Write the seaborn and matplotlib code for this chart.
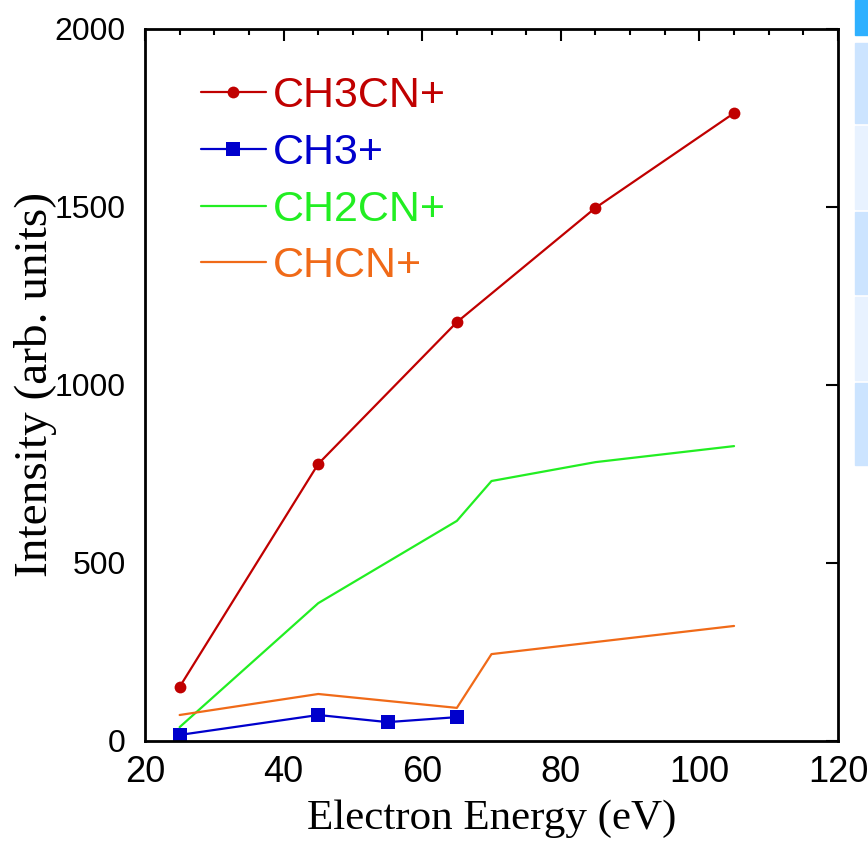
import matplotlib
matplotlib.use("Agg")
import matplotlib.pyplot as plt
from matplotlib import font_manager
from matplotlib.patches import Rectangle
from matplotlib.ticker import MultipleLocator
import seaborn as sns
import pandas as pd

# ---- data ----
ch3cn_x = [25, 45, 65, 85, 105]
ch3cn_y = [152, 778, 1176, 1497, 1763]
ch3_x = [25, 45, 55, 65]
ch3_y = [17, 73, 53, 67]
ch2cn_x = [25, 45, 65, 70, 85, 105]
ch2cn_y = [39, 387, 618, 730, 783, 828]
chcn_x = [25, 45, 65, 70, 105]
chcn_y = [73, 132, 93, 244, 323]

labels = ["CH3CN+", "CH3+", "CH2CN+", "CHCN+"]
colors = ["#C00000", "#0000CC", "#22EE22", "#F06A18"]
markers = ["o", "s", None, None]
msizes = [8.5, 9.5, 0, 0]

x_ticks = [20, 40, 60, 80, 100, 120]
y_ticks = [0, 500, 1000, 1500, 2000]

sns.set_style("white")
plt.rcParams.update({"text.color": "black", "axes.labelcolor": "black",
                     "xtick.color": "black", "ytick.color": "black"})

def has_font(name):
    try:
        font_manager.findfont(name, fallback_to_default=False)
        return True
    except Exception:
        return False

narrow = "Liberation Sans Narrow" if has_font("Liberation Sans Narrow") else "Liberation Sans"

fig = plt.figure(figsize=(8.68, 8.42), dpi=100)
ax = fig.add_axes([145 / 868, 1 - 741 / 842, 693 / 868, (741 - 28.7) / 842])

series = [(ch3cn_x, ch3cn_y), (ch3_x, ch3_y), (ch2cn_x, ch2cn_y), (chcn_x, chcn_y)]
for (xs, ys), lab, col, mk, ms in zip(series, labels, colors, markers, msizes):
    df = pd.DataFrame({"x": xs, "y": ys})
    kw = dict(marker=mk, markersize=ms, markeredgewidth=0) if mk else {}
    sns.lineplot(data=df, x="x", y="y", ax=ax, color=col, linewidth=1.6,
                 label=lab, **kw)

ax.set_xlim(20, 120)
ax.set_ylim(0, 2000)
ax.set_xticks(x_ticks)
ax.set_yticks(y_ticks)
ax.xaxis.set_minor_locator(MultipleLocator(5))

for s in ax.spines.values():
    s.set_linewidth(2.0)
    s.set_color("black")

ax.tick_params(axis="both", which="both", direction="in", top=True, right=True,
               color="black", labelcolor="black", width=1.5)
ax.tick_params(axis="both", which="major", length=8.5)
ax.tick_params(axis="x", which="minor", length=4.5)
ax.tick_params(axis="x", which="major", pad=10)
ax.tick_params(axis="y", which="major", pad=14)

for t in ax.get_xticklabels():
    t.set_fontfamily(narrow)
    t.set_fontsize(26)
for t in ax.get_yticklabels():
    t.set_fontfamily("Liberation Sans")
    t.set_fontsize(23)

ax.set_xlabel("Electron Energy (eV)", fontfamily="Liberation Serif", fontsize=31,
              labelpad=7, color="black")
ax.set_ylabel("Intensity (arb. units)", fontfamily="Liberation Serif", fontsize=34,
              labelpad=-2, color="black")

leg = ax.legend(loc="upper left", bbox_to_anchor=((201 - 145) / 693, (741 - 76) / 712.3),
                frameon=False, borderpad=0, borderaxespad=0, handlelength=1.5,
                handletextpad=0.16, labelspacing=0.39, labelcolor="linecolor",
                prop={"family": "Liberation Sans", "size": 31})

# right-edge strip from the screenshot
strip = [(0, 35, "#2EB0FF"), (43, 123, "#CCE4FF"), (126, 209, "#E8F2FF"),
         (212, 294, "#CCE4FF"), (297, 380, "#E8F2FF"), (383, 465, "#CCE4FF")]
for y0, y1, c in strip:
    fig.patches.append(Rectangle((855 / 868, 1 - y1 / 842), 13 / 868, (y1 - y0) / 842,
                                 transform=fig.transFigure, color=c, zorder=0))

fig.savefig("out.png", dpi=100, facecolor="white")
